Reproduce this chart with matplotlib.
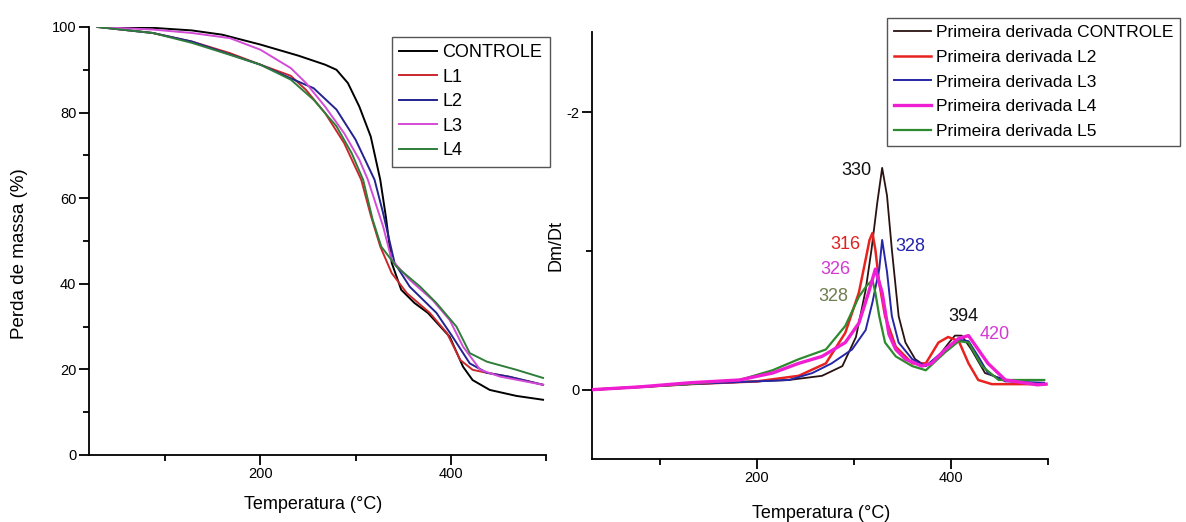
import matplotlib
matplotlib.use("Agg")
import matplotlib.pyplot as plt
from matplotlib.ticker import MultipleLocator

plt.rcParams['font.family'] = ['Liberation Sans', 'DejaVu Sans']
plt.rcParams['axes.unicode_minus'] = False

# ---- TGA (left) ----
tga_labels = ['CONTROLE', 'L1', 'L2', 'L3', 'L4']
tga_colors = ['#000000', '#c8282d', '#23238f', '#d44bd8', '#2f7d3a']

t_ctrl = [29, 87, 128, 160, 200, 240, 268, 280, 292, 304, 316, 326, 332, 338, 348, 362, 376, 399, 413, 423, 441, 469, 497]
m_ctrl = [100, 99.8, 99.2, 98.2, 95.9, 93.3, 91.2, 90, 86.9, 81.4, 74.4, 64.3, 55.5, 44.9, 38.6, 35.5, 33.2, 27.6, 20.6, 17.5, 15.2, 13.8, 12.9]

t_l1 = [29, 87, 128, 168, 200, 232, 248, 268, 288, 306, 316, 326, 338, 354, 378, 396, 410, 423, 438, 461, 497]
m_l1 = [100, 98.6, 96.6, 93.9, 91.2, 88.6, 85.3, 79.9, 72.9, 64.3, 56, 48.7, 42.5, 37.8, 33.2, 28.5, 22.2, 19.9, 19.2, 18.3, 16.4]

t_l2 = [29, 87, 128, 200, 232, 256, 280, 300, 320, 329, 341, 357, 385, 402, 420, 438, 461, 497]
m_l2 = [100, 98.6, 96.6, 91.2, 88, 85.7, 80.7, 73.7, 64.3, 56.5, 44.9, 39.3, 33.2, 27.6, 21.4, 19.2, 18.3, 16.4]

t_l3 = [29, 87, 128, 168, 200, 232, 248, 268, 288, 304, 313, 329, 338, 357, 381, 399, 413, 431, 452, 497]
m_l3 = [100, 99.4, 98.6, 97.4, 94.7, 90.4, 86.9, 81.4, 75.2, 69, 64.3, 53.4, 45.6, 40.9, 36.2, 31.5, 25.3, 19.9, 18.3, 16.4]

t_l4 = [29, 87, 128, 168, 200, 232, 256, 280, 296, 308, 318, 327, 343, 368, 385, 406, 420, 438, 469, 497]
m_l4 = [100, 98.6, 96.3, 93.5, 91.2, 87.7, 83, 76.8, 70.5, 64.3, 55, 48.7, 44, 39.3, 35.5, 30, 23.8, 21.8, 19.9, 18]

# ---- DTG (right), values shown as -dm/dt on an inverted axis ----
dtg_labels = ['Primeira derivada CONTROLE', 'Primeira derivada L2', 'Primeira derivada L3',
              'Primeira derivada L4', 'Primeira derivada L5']
dtg_colors = ['#2a1212', '#e8231f', '#2626a8', '#f01ed2', '#2e8a2e']

d_t_ctrl = [30, 80, 130, 200, 233, 267, 288, 302, 312, 318, 324, 329, 334, 339, 346, 353, 363, 374, 387, 398, 404, 411, 421, 435, 456, 496]
d_v_ctrl = [0, 0.02, 0.04, 0.06, 0.07, 0.1, 0.17, 0.38, 0.72, 1.01, 1.35, 1.6, 1.4, 1.01, 0.53, 0.34, 0.22, 0.17, 0.24, 0.34, 0.39, 0.39, 0.29, 0.12, 0.07, 0.07]

d_t_l2 = [30, 80, 130, 200, 243, 271, 291, 305, 312, 316, 319, 322, 326, 332, 343, 360, 374, 387, 397, 408, 418, 428, 442, 496]
d_v_l2 = [0, 0.02, 0.04, 0.06, 0.1, 0.19, 0.41, 0.7, 0.94, 1.08, 1.13, 1.01, 0.77, 0.53, 0.31, 0.19, 0.19, 0.34, 0.38, 0.35, 0.19, 0.07, 0.04, 0.04]

d_t_l3 = [30, 80, 130, 200, 233, 257, 277, 298, 312, 319, 326, 329, 334, 339, 346, 360, 374, 394, 408, 418, 428, 438, 456, 496]
d_v_l3 = [0, 0.02, 0.04, 0.06, 0.07, 0.12, 0.19, 0.29, 0.43, 0.63, 0.87, 1.08, 0.85, 0.53, 0.34, 0.22, 0.17, 0.29, 0.36, 0.35, 0.24, 0.12, 0.06, 0.05]

d_t_l4 = [30, 79, 131, 182, 216, 243, 267, 291, 305, 315, 322, 329, 336, 343, 353, 370, 380, 394, 408, 418, 428, 438, 456, 489, 498]
d_v_l4 = [0, 0.02, 0.05, 0.07, 0.12, 0.19, 0.24, 0.34, 0.48, 0.7, 0.87, 0.7, 0.4, 0.29, 0.22, 0.17, 0.19, 0.29, 0.37, 0.39, 0.29, 0.19, 0.07, 0.035, 0.04]

d_t_l5 = [30, 80, 130, 182, 216, 243, 271, 291, 305, 313, 319, 322, 326, 332, 343, 360, 374, 394, 408, 418, 432, 449, 496]
d_v_l5 = [0, 0.02, 0.04, 0.07, 0.14, 0.22, 0.29, 0.46, 0.67, 0.75, 0.79, 0.7, 0.53, 0.34, 0.24, 0.17, 0.14, 0.27, 0.35, 0.34, 0.17, 0.07, 0.07]

peak_text = ['330', '316', '328', '326', '328', '394', '420']
peak_t = [302, 291, 358, 281, 279, 413, 445]
peak_v = [1.58, 1.05, 1.03, 0.87, 0.67, 0.53, 0.40]
peak_colors = ['#111111', '#e02020', '#2323b0', '#d23ad2', '#6e7d4f', '#111111', '#d23ad2']

fig = plt.figure(figsize=(11.86, 5.22), dpi=100)

# left panel
ax1 = fig.add_axes([0.0750, 0.1284, 0.3853, 0.8199])
tga_t = [t_ctrl, t_l1, t_l2, t_l3, t_l4]
tga_m = [m_ctrl, m_l1, m_l2, m_l3, m_l4]
for t, m, c, lab in zip(tga_t, tga_m, tga_colors, tga_labels):
    ax1.plot(t, m, color=c, lw=1.4, label=lab)
ax1.set_xlim(20, 500)
ax1.set_ylim(0, 100)
ax1.xaxis.set_major_locator(MultipleLocator(200))
ax1.xaxis.set_minor_locator(MultipleLocator(100))
ax1.yaxis.set_major_locator(MultipleLocator(20))
ax1.yaxis.set_minor_locator(MultipleLocator(10))
ax1.set_xlabel('Temperatura (°C)', fontsize=13)
ax1.set_ylabel('Perda de massa (%)', fontsize=13.5)
ax1.xaxis.set_label_coords(0.49, -0.096)
ax1.yaxis.set_label_coords(-0.133, 0.47)
leg1 = ax1.legend(loc='upper left', bbox_to_anchor=(0.663, 0.977), borderaxespad=0,
                  fontsize=13, fancybox=False, framealpha=1, edgecolor='#555555',
                  handlelength=2.1, handletextpad=0.3, labelspacing=0.42, borderpad=0.4)
leg1.get_frame().set_linewidth(1.0)

# right panel
ax2 = fig.add_axes([0.4992, 0.1207, 0.3845, 0.8180])
dtg_t = [d_t_ctrl, d_t_l2, d_t_l3, d_t_l4, d_t_l5]
dtg_v = [d_v_ctrl, d_v_l2, d_v_l3, d_v_l4, d_v_l5]
zorders = [3, 4, 5, 7, 6]
widths = [1.3, 1.8, 1.4, 2.4, 1.6]
for t, v, c, lab, z, w in zip(dtg_t, dtg_v, dtg_colors, dtg_labels, zorders, widths):
    ax2.plot(t, [-x for x in v], color=c, lw=w, label=lab, zorder=z)
for txt, t, v, c in zip(peak_text, peak_t, peak_v, peak_colors):
    ax2.text(t, -v, txt, color=c, fontsize=13, ha='center', va='center')
ax2.set_xlim(30, 500)
ax2.set_ylim(0.5, -2.58)
ax2.xaxis.set_major_locator(MultipleLocator(200))
ax2.xaxis.set_minor_locator(MultipleLocator(100))
ax2.yaxis.set_major_locator(MultipleLocator(2))
ax2.yaxis.set_minor_locator(MultipleLocator(1))
ax2.set_xlabel('Temperatura (°C)', fontsize=13)
ax2.set_ylabel('Dm/Dt', fontsize=13)
ax2.xaxis.set_label_coords(0.502, -0.108)
ax2.yaxis.set_label_coords(-0.061, 0.5)
leg2 = ax2.legend(loc='upper left', bbox_to_anchor=(0.748, 0.9655),
                  bbox_transform=fig.transFigure, borderaxespad=0,
                  fontsize=12.5, fancybox=False, framealpha=1, edgecolor='#555555',
                  handlelength=2.1, handletextpad=0.3, labelspacing=0.55, borderpad=0.4)
leg2.get_frame().set_linewidth(1.0)

for ax in (ax1, ax2):
    ax.spines['top'].set_visible(False)
    ax.spines['right'].set_visible(False)
    for s in ('left', 'bottom'):
        ax.spines[s].set_linewidth(1.3)
    ax.tick_params(which='major', direction='out', length=7, width=1.3, labelsize=10.5, pad=2)
    ax.tick_params(which='minor', direction='out', length=4, width=1.3)

fig.savefig('out.png', dpi=100)
